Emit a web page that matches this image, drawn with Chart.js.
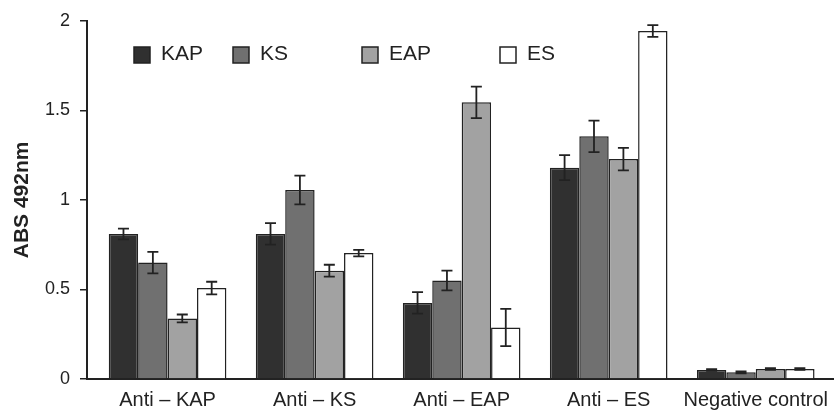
<!DOCTYPE html>
<html>
<head>
<meta charset="utf-8">
<title>ABS 492nm</title>
<script src="https://cdn.jsdelivr.net/npm/chart.js@4/dist/chart.umd.min.js"></script>
<style>
  html, body { margin: 0; padding: 0; background: #fff; }
  #wrap { position: relative; width: 837px; height: 410px; }
</style>
</head>
<body>
<div id="wrap"><canvas id="chart"></canvas></div>
<script>
// values
const categories = ['Anti – KAP', 'Anti – KS', 'Anti – EAP', 'Anti – ES', 'Negative control'];
const seriesNames = ['KAP', 'KS', 'EAP', 'ES'];

const kap = [0.81, 0.81, 0.425, 1.18, 0.05];
const kapErr = [0.03, 0.06, 0.06, 0.07, 0.005];
const ks = [0.65, 1.055, 0.55, 1.355, 0.037];
const ksErr = [0.06, 0.08, 0.055, 0.088, 0.005];
const eap = [0.338, 0.605, 1.545, 1.228, 0.056];
const eapErr = [0.022, 0.033, 0.088, 0.063, 0.005];
const es = [0.508, 0.703, 0.288, 1.943, 0.056];
const esErr = [0.035, 0.018, 0.104, 0.033, 0.005];

const yTicks = [0, 0.5, 1, 1.5, 2];

const colors = ['#303030', '#707070', '#a2a2a2', '#ffffff'];
const ink = '#222';

// legend sits inside the plot, spaced like the original
const legendX = [134, 233, 362, 500];
const legendY = 55;

const values = [kap, ks, eap, es];
const errors = [kapErr, ksErr, eapErr, esErr];

const errorBars = {
  id: 'errorBars',
  afterDatasetsDraw(chart) {
    const ctx = chart.ctx;
    const y = chart.scales.y;
    ctx.save();
    ctx.strokeStyle = ink;
    ctx.lineWidth = 1.8;
    chart.data.datasets.forEach((ds, di) => {
      const meta = chart.getDatasetMeta(di);
      meta.data.forEach((bar, i) => {
        const v = ds.data[i].y;
        const e = ds.errors[i];
        const top = y.getPixelForValue(v + e);
        const bot = y.getPixelForValue(v - e);
        ctx.beginPath();
        ctx.moveTo(bar.x, top);
        ctx.lineTo(bar.x, bot);
        ctx.moveTo(bar.x - 5.5, top);
        ctx.lineTo(bar.x + 5.5, top);
        ctx.moveTo(bar.x - 5.5, bot);
        ctx.lineTo(bar.x + 5.5, bot);
        ctx.stroke();
      });
    });
    ctx.restore();
  }
};

const plotLegend = {
  id: 'plotLegend',
  afterDraw(chart) {
    const ctx = chart.ctx;
    ctx.save();
    ctx.font = '21px "Liberation Sans", Arial, sans-serif';
    ctx.textBaseline = 'middle';
    ctx.textAlign = 'left';
    chart.data.datasets.forEach((ds, i) => {
      const x = legendX[i];
      ctx.fillStyle = ds.backgroundColor;
      ctx.fillRect(x, legendY - 8, 16, 16);
      ctx.strokeStyle = ink;
      ctx.lineWidth = 1.5;
      ctx.strokeRect(x, legendY - 8, 16, 16);
      ctx.fillStyle = ink;
      ctx.fillText(ds.label, x + 27, legendY - 1);
    });
    ctx.restore();
  }
};

new Chart(document.getElementById('chart'), {
  type: 'bar',
  data: {
    datasets: seriesNames.map((name, s) => ({
      label: name,
      data: values[s].map((v, i) => ({ x: i, y: v })),
      errors: errors[s],
      backgroundColor: colors[s],
      borderColor: ink,
      borderWidth: 1.5,
      categoryPercentage: 0.8,
      barPercentage: 1
    }))
  },
  options: {
    responsive: true,
    maintainAspectRatio: false,
    animation: false,
    layout: { padding: { top: 20, left: 0, right: 0, bottom: 0 } },
    plugins: {
      legend: { display: false },
      tooltip: { enabled: false }
    },
    scales: {
      x: {
        type: 'linear',
        offset: false,
        min: -0.548,
        max: 4.526,
        afterFit: (scale) => { scale.height = 31; },
        grid: { display: false, drawTicks: false },
        border: { display: true, color: ink, width: 2 },
        ticks: {
          stepSize: 1,
          includeBounds: false,
          maxRotation: 0,
          autoSkip: false,
          padding: 9,
          color: ink,
          font: { family: '"Liberation Sans", Arial, sans-serif', size: 20 },
          callback: (v) => categories[v] ?? ''
        }
      },
      y: {
        min: 0,
        max: 2,
        afterBuildTicks: (scale) => { scale.ticks = yTicks.map(v => ({ value: v })); },
        afterFit: (scale) => { scale.width = 87; },
        grid: {
          drawOnChartArea: false,
          drawTicks: true,
          tickLength: 7,
          color: ink,
          lineWidth: 1.5
        },
        border: { display: true, color: ink, width: 2 },
        ticks: {
          padding: 10,
          color: ink,
          font: { family: '"Liberation Sans", Arial, sans-serif', size: 18 },
          callback: (v) => String(v)
        },
        title: {
          display: true,
          text: 'ABS 492nm',
          color: ink,
          padding: { top: 10, bottom: 0 },
          font: { family: '"Liberation Sans", Arial, sans-serif', size: 21, weight: 'bold' }
        }
      }
    }
  },
  plugins: [errorBars, plotLegend]
});
</script>
</body>
</html>
